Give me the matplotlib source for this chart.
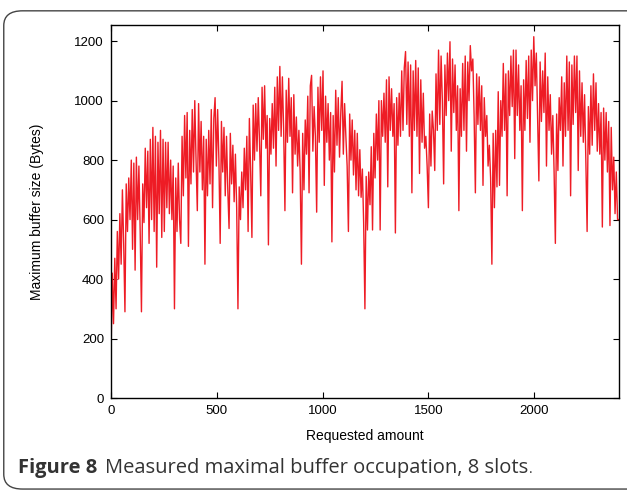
import matplotlib
matplotlib.use("Agg")
import matplotlib.pyplot as plt
from matplotlib.patches import FancyBboxPatch
import numpy as np

# requested amount step between the sampled values
step = 6

# maximum buffer size (Bytes), one block of 50 values per 300 requests
cycle1 = [130, 420, 250, 470, 300, 560, 400, 620, 450, 700,
          520, 290, 720, 560, 740, 600, 800, 500, 790, 430,
          810, 600, 780, 560, 290, 720, 590, 840, 640, 830,
          520, 870, 600, 910, 560, 880, 440, 860, 620, 900,
          540, 870, 560, 860, 640, 860, 620, 800, 600, 780]
cycle2 = [300, 740, 560, 790, 600, 520, 880, 680, 950, 740,
          960, 510, 900, 720, 970, 760, 1000, 800, 630, 990,
          760, 930, 700, 880, 450, 870, 680, 900, 720, 970,
          640, 940, 1010, 780, 970, 800, 520, 930, 760, 910,
          680, 880, 700, 570, 890, 720, 850, 660, 820, 640]
cycle3 = [300, 710, 600, 760, 640, 840, 700, 880, 560, 940,
          760, 540, 985, 800, 990, 830, 1010, 860, 680, 1045,
          870, 1050, 840, 950, 515, 940, 820, 990, 840, 1045,
          780, 1080, 900, 1115, 880, 1080, 900, 630, 1035, 860,
          1075, 880, 1010, 690, 1020, 820, 945, 780, 900, 760]
cycle4 = [450, 890, 700, 935, 820, 1015, 690, 1050, 1085, 830,
          980, 880, 625, 1045, 860, 1080, 900, 1100, 715, 1015,
          860, 990, 800, 960, 525, 950, 760, 1035, 850, 1010,
          810, 960, 1065, 820, 990, 880, 780, 560, 955, 800,
          935, 750, 900, 700, 890, 680, 835, 675, 770, 590]
cycle5 = [300, 745, 565, 760, 650, 845, 565, 890, 740, 955,
          800, 1000, 565, 1000, 880, 1025, 860, 1070, 710, 1080,
          900, 1040, 880, 990, 555, 1010, 850, 1025, 880, 1100,
          900, 1110, 1165, 920, 1130, 880, 1120, 690, 1100, 900,
          1135, 880, 1110, 755, 1070, 860, 1025, 840, 880, 780]
cycle6 = [640, 955, 780, 965, 900, 765, 1090, 900, 1170, 920,
          1150, 1000, 720, 1120, 950, 1160, 1000, 1198, 830, 1140,
          960, 1120, 900, 1050, 630, 1040, 880, 1125, 900, 1150,
          830, 1130, 1000, 1185, 1100, 1140, 950, 690, 1090, 920,
          1080, 900, 1050, 715, 1010, 880, 950, 780, 850, 740]
cycle7 = [450, 890, 640, 900, 710, 1030, 715, 1000, 880, 1125,
          900, 1090, 680, 1100, 950, 1150, 980, 1170, 805, 1170,
          950, 1120, 900, 1050, 630, 1070, 900, 1135, 940, 1150,
          860, 1170, 1000, 1215, 1050, 1160, 950, 730, 1130, 930,
          1100, 960, 1160, 780, 1080, 900, 1020, 820, 950, 760]
cycle8 = [520, 955, 765, 1010, 900, 1080, 780, 1060, 880, 1150,
          900, 1130, 680, 1120, 920, 1150, 960, 1150, 765, 1100,
          880, 1060, 860, 1020, 800, 560, 980, 820, 1050, 850,
          1090, 900, 1060, 830, 990, 820, 960, 575, 975, 800,
          960, 760, 930, 580, 910, 700, 810, 620, 760, 600, 600]

buffer_size = cycle1 + cycle2 + cycle3 + cycle4 + cycle5 + cycle6 + cycle7 + cycle8
requested = np.arange(len(buffer_size)) * step

xticks = [0, 500, 1000, 1500, 2000]
yticks = [0, 200, 400, 600, 800, 1000, 1200]

plt.rcParams['font.family'] = ['Liberation Sans', 'DejaVu Sans']

fig = plt.figure(figsize=(6.27, 4.92), dpi=100)

# rounded frame around figure + caption
frame = FancyBboxPatch((0.006, 0.006), 1.2, 0.972, boxstyle="round,pad=0,rounding_size=0.03",
                       transform=fig.transFigure, fill=False, edgecolor='#444444', linewidth=1.0)
fig.patches.append(frame)

ax = fig.add_axes([0.177, 0.191, 0.81, 0.758])
ax.plot(requested, buffer_size, color='#ee1c25', linewidth=1.0)

ax.set_xlim(0, 2400)
ax.set_ylim(0, 1254)
ax.set_xticks(xticks)
ax.set_yticks(yticks)
ax.tick_params(direction='in', top=True, right=True, length=4, width=0.8, labelsize=9.5, pad=5)
for s in ax.spines.values():
    s.set_linewidth(1.0)

ax.set_xlabel('Requested amount', fontsize=10, labelpad=9)
ax.set_ylabel('Maximum buffer size (Bytes)', fontsize=10, labelpad=22)

# caption: bold label, then the rest placed right after it
r = fig.canvas.get_renderer()
t1 = fig.text(0.029, 0.039, 'Figure 8', fontsize=14.5, fontweight='bold', family='Open Sans', color='#333333')
bb = t1.get_window_extent(renderer=r)
x2 = (bb.x1 + 7) / fig.bbox.width
t2 = fig.text(x2, 0.039, 'Measured maximal buffer occupation, 8 slots', fontsize=14.5,
              family='Open Sans', color='#333333')
bb2 = t2.get_window_extent(renderer=r)
fig.text((bb2.x1 + 1) / fig.bbox.width, 0.039, '.', fontsize=10, family='Open Sans', color='#333333')

fig.savefig('out.png', dpi=100)
